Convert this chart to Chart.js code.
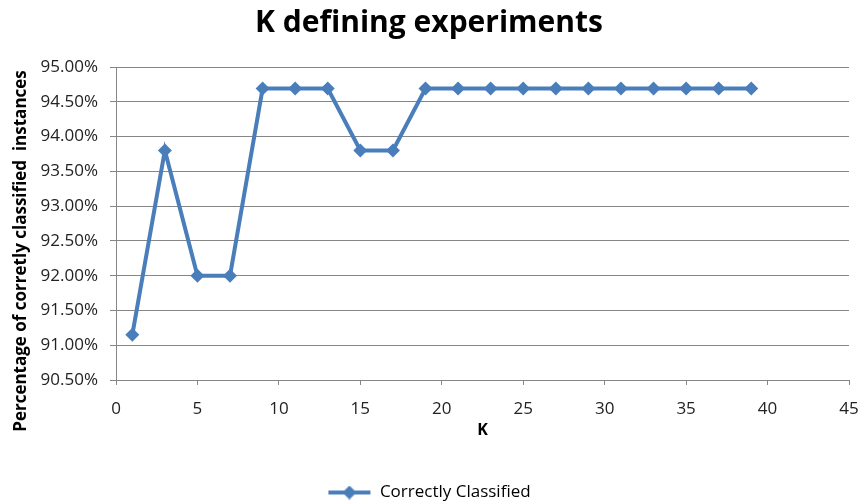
<!DOCTYPE html>
<html>
<head>
<meta charset="utf-8">
<script src="https://cdn.jsdelivr.net/npm/chart.js@4"></script>
<style>
html,body{margin:0;padding:0;background:#fff;}
#wrap{width:862px;height:501px;position:relative;}
</style>
</head>
<body>
<div id="wrap"><canvas id="c" width="862" height="501"></canvas></div>
<script>
const kValues = [1,3,5,7,9,11,13,15,17,19,21,23,25,27,29,31,33,35,37,39];
const correctlyClassified = [91.15,93.80,92.00,92.00,94.69,94.69,94.69,93.80,93.80,94.69,94.69,94.69,94.69,94.69,94.69,94.69,94.69,94.69,94.69,94.69];
const seriesName = 'Correctly Classified';
const chartTitle = 'K defining experiments';
const xTitle = 'K';
const yTitle = 'Percentage of corretly classified  instances';
const xTicks = [0,5,10,15,20,25,30,35,40,45];
const yTicks = [90.5,91,91.5,92,92.5,93,93.5,94,94.5,95];

const lineColor = '#4A7EBB';
const fontFam = '"Open Sans", "DejaVu Sans", sans-serif';

// legend marker: line + diamond
const mk = document.createElement('canvas');
mk.width = 44; mk.height = 14;
(function(){
  const g = mk.getContext('2d');
  g.strokeStyle = lineColor; g.lineWidth = 4;
  g.beginPath(); g.moveTo(1,7); g.lineTo(43,7); g.stroke();
  g.fillStyle = lineColor;
  g.beginPath(); g.moveTo(22,0); g.lineTo(29,7); g.lineTo(22,14); g.lineTo(15,7); g.closePath(); g.fill();
})();

// y-axis title drawn as text, centred where the reference puts it
const yTitlePlugin = {
  id: 'yTitle',
  afterDraw(chart) {
    const ctx = chart.ctx;
    ctx.save();
    ctx.translate(21, 251);
    ctx.rotate(-Math.PI / 2);
    ctx.font = 'bold 17px ' + fontFam;
    ctx.fillStyle = '#000';
    ctx.textAlign = 'center';
    ctx.textBaseline = 'middle';
    ctx.fillText(yTitle, 0, 0);
    ctx.restore();
  }
};

const data = kValues.map((k,i)=>({x:k, y:correctlyClassified[i]}));

new Chart(document.getElementById('c'), {
  type: 'line',
  data: {
    datasets: [{
      label: seriesName,
      data: data,
      borderColor: lineColor,
      backgroundColor: lineColor,
      borderWidth: 4,
      pointStyle: 'rectRot',
      pointRadius: 7,
      pointHoverRadius: 7,
      pointBorderWidth: 0,
      tension: 0,
      fill: false
    }]
  },
  options: {
    responsive: false,
    animation: false,
    devicePixelRatio: 1,
    layout: { padding: { left: 0, right: 4, top: 0, bottom: -10 } },
    plugins: {
      title: {
        display: true,
        text: chartTitle,
        color: '#000',
        font: { family: fontFam, size: 30, weight: 'bold' },
        padding: { top: 5, bottom: 26 }
      },
      legend: {
        position: 'bottom',
        labels: {
          usePointStyle: true,
          pointStyleWidth: 44,
          color: '#222',
          font: { family: fontFam, size: 17 },
          padding: 3,
          generateLabels: (chart) => [{
            text: seriesName,
            pointStyle: mk,
            fillStyle: lineColor,
            strokeStyle: lineColor,
            lineWidth: 0,
            datasetIndex: 0,
            hidden: false
          }]
        }
      },
      tooltip: { enabled: false }
    },
    scales: {
      x: {
        type: 'linear',
        min: 0, max: 45,
        afterBuildTicks: (s) => { s.ticks = xTicks.map(v=>({value:v})); },
        ticks: { color: '#222', font: { family: fontFam, size: 17 }, padding: 14, maxRotation: 0 },
        grid: { display: true, drawOnChartArea: false, drawTicks: true, tickLength: 5, color: '#868686' },
        border: { display: true, color: '#868686', width: 1 },
        title: { display: true, text: xTitle, color: '#000', font: { family: fontFam, size: 16, weight: 'bold' }, padding: { top: 0, bottom: 41 } },
        afterFit: (s) => { s.height = 101; s.paddingRight = 13; s.paddingLeft = 0; }
      },
      y: {
        min: 90.5, max: 95,
        afterBuildTicks: (s) => { s.ticks = yTicks.map(v=>({value:v})); },
        ticks: { color: '#222', font: { family: fontFam, size: 17 }, padding: 12, callback: (v) => Number(v).toFixed(2) + '%' },
        grid: { color: '#868686', lineWidth: 1, tickLength: 6 },
        border: { display: true, color: '#868686', width: 1 },
        title: { display: false },
        afterFit: (s) => { s.width = 116; }
      }
    }
  },
  plugins: [yTitlePlugin]
});
</script>
</body>
</html>
